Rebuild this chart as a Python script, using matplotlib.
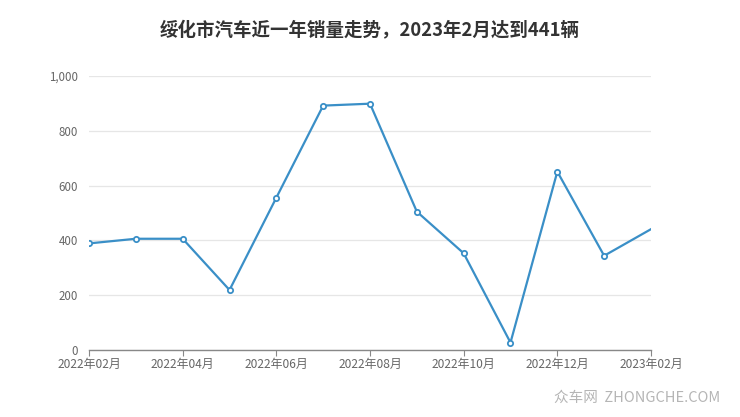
import matplotlib.pyplot as plt

plt.rcParams['font.family'] = ['Noto Sans CJK SC', 'DejaVu Sans']

months = ['2022年02月', '2022年03月', '2022年04月', '2022年05月', '2022年06月', '2022年07月',
          '2022年08月', '2022年09月', '2022年10月', '2022年11月', '2022年12月', '2023年01月',
          '2023年02月']
sales = [389, 406, 406, 219, 556, 892, 899, 505, 353, 27, 651, 344, 441]
yticks = [0, 200, 400, 600, 800, 1000]
ytick_labels = ['0', '200', '400', '600', '800', '1,000']

fig = plt.figure(figsize=(7.4, 4.17), dpi=100)
ax = fig.add_axes([0.1203, 0.1607, 0.7594, 0.657])

x = list(range(len(months)))
color = '#3a8fc7'
ax.plot(x, sales, color=color, linewidth=1.6, marker='o', markersize=3.8,
        markerfacecolor='white', markeredgecolor=color, markeredgewidth=1.3,
        markevery=list(range(len(months) - 1)), zorder=3)

ax.set_xlim(0, len(months) - 1)
ax.set_ylim(0, 1000)
ax.set_yticks(yticks)
ax.set_yticklabels(ytick_labels)
ax.set_xticks(x[::2])
ax.set_xticklabels(months[::2])

ax.grid(axis='y', color='#e6e6e6', linewidth=0.9)
ax.set_axisbelow(True)
for s in ['top', 'right', 'left']:
    ax.spines[s].set_visible(False)
ax.spines['bottom'].set_color('#888888')
ax.spines['bottom'].set_linewidth(1.0)
ax.tick_params(axis='y', length=0, pad=8, labelsize=8.3, labelcolor='#666666')
ax.tick_params(axis='x', length=4, color='#888888', labelsize=8.6, labelcolor='#666666', pad=2)

fig.text(0.5, 0.925, '绥化市汽车近一年销量走势，2023年2月达到441辆', ha='center', va='center',
         fontsize=13.3, fontweight='bold', color='#333333')
fig.text(0.973, 0.045, '众车网  ZHONGCHE.COM', ha='right', va='center', fontsize=10.5,
         color='#b5b5b5')

fig.savefig('out.png', dpi=100)
